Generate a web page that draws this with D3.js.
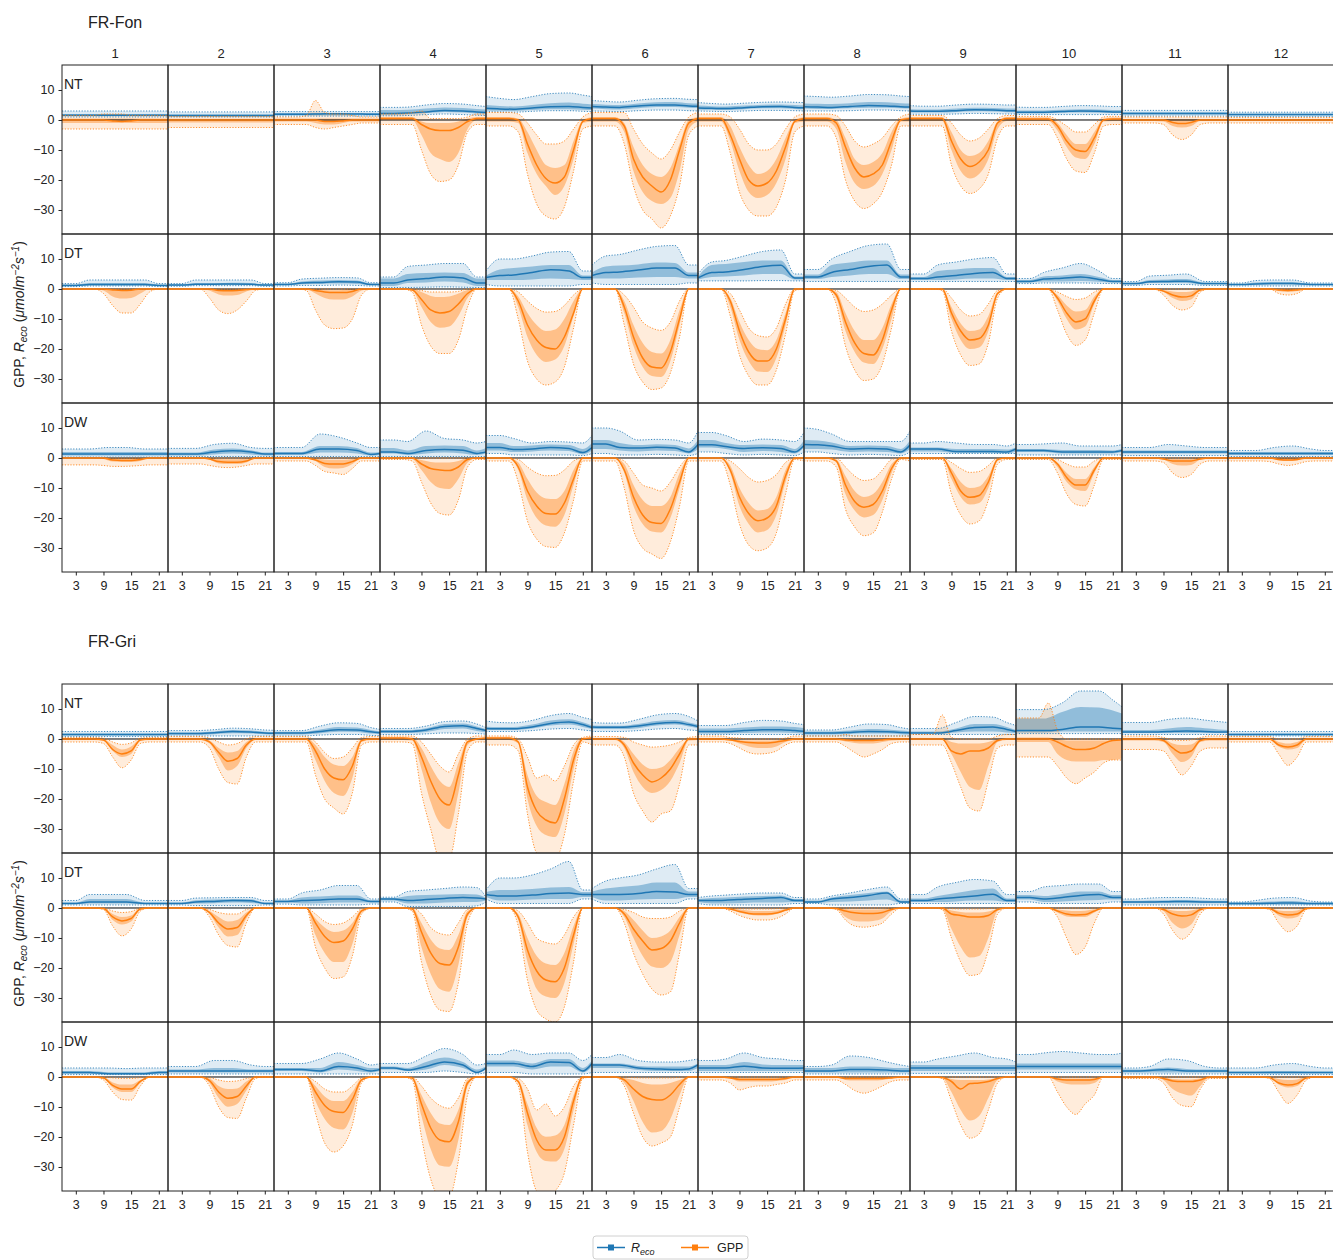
<!DOCTYPE html>
<html>
<head>
<meta charset="utf-8">
<script src="https://cdn.jsdelivr.net/npm/d3@7"></script>
<style>
  body { margin: 0; background: #fff; }
  svg { display: block; }
  text { font-family: "Liberation Sans", Arial, Helvetica, sans-serif; fill: #222; }
</style>
</head>
<body>
<svg id="chart" width="1333" height="1260"></svg>
<script>
// ---- data -------------------------------------------------------------
// Mean diurnal cycles per month. Each month holds five quantile series
// [p05, p25, p50, p75, p95]; a single number stands for a flat series.
const HOURS_GPP  = [0, 5, 7, 9, 11, 13, 15, 17, 19, 21, 23];
const HOURS_RECO = [0, 3, 6, 10, 14, 18, 21, 23];
const MONTHS = [1, 2, 3, 4, 5, 6, 7, 8, 9, 10, 11, 12];
const METHODS = ["NT", "DT", "DW"];
const SITES = ["FR-Fon", "FR-Gri"];
const X_TICKS = [3, 9, 15, 21];
const Y_TICKS = [10, 0, -10, -20, -30];

const fonNT_gpp = [
  [-3, -1, [0,0,0,0,-0.3,-0.5,-0.3,0,0,0,0], 0.5, [1.5,1.5,1.5,2,2,2,1.5,1.5,1.5,1.5,1.5]],
  [-2.5, -0.8, 0, 0.4, 1.2],
  [[-1.5,-1.5,-1.5,-2.5,-3,-2.5,-2,-1.5,-1,-1,-1],[-0.5,-0.5,-0.5,-1,-1.5,-1.5,-1,-0.5,-0.5,-0.5,-0.5],[0,0,0,0,-0.5,-0.5,-0.3,0,0,0,0],0.5,[1,1,1.5,6.5,2.5,2,2,1.5,1,1,1]],
  [[-1.5,-1.5,-1.5,-10,-18,-20.5,-20,-15,-4,-1.5,-1.5],[0,0,0,-5,-11,-13,-14,-11,-3,0,0],[0.5,0.5,0.5,-1.5,-3,-3.5,-3.5,-2.5,-0.5,0.5,0.5],[1,1,1,-0.5,-1,-1,-1,-0.5,0.5,1,1],[2,2,2.5,3,0.5,0.5,0.5,0.5,1,2,2]],
  [[-2,-2,-4,-18,-28,-32,-33,-29,-17,-3,-2],[-0.5,-0.5,-1,-11,-18,-22,-25,-22,-13,-1,-0.5],[0.5,0.5,0,-8,-15,-19.5,-21,-19,-10,-0.5,0.5],[1,1,0.5,-4,-10,-15,-16,-15,-7,0,1],[2.5,2.5,2,-1,-5,-8,-8,-7,-3,1,2.5]],
  [[-2,-2,-8,-22,-30,-33,-36,-32,-22,-5,-2],[-0.5,-0.5,-4,-17,-24,-27,-28,-26,-17,-3,-0.5],[0.5,0.5,-2,-13,-19,-22,-24,-20,-10,-1,0.5],[1,1,-1,-9,-15,-18,-19,-16,-8,0,1],[2.5,2.5,2.5,-3,-8,-11,-13,-10,-4,1,2.5]],
  [[-2,-2,-11,-24,-30,-32,-32,-29,-20,-4,-2],[-0.5,-0.5,-7,-17,-24,-26,-25,-21,-13,-1,-0.5],[0.5,0.5,-5,-13,-20,-22,-21,-17,-9,-0.5,0.5],[1,1,-2,-9,-15,-18,-17,-13,-6,0,1],[2,2,1,-3,-8,-10,-10,-8,-3,1,2]],
  [[-2,-2,-6,-20,-27,-29.5,-28,-24,-15,-2,-2],[-0.5,-0.5,-3,-14,-21,-23,-22,-18,-10,-0.5,-0.5],[0.5,0.5,-1,-9,-16,-19,-18,-15,-7,0,0.5],[1,1,0,-6,-13,-15,-14,-11,-4,0.5,1],[2,2,1.5,-2,-7,-9,-8,-6,-2,1,2]],
  [[-2,-2,-2,-15,-22,-24.5,-23,-18,-6,-2,-2],[-0.3,-0.3,-0.3,-10,-17,-19.5,-18,-13,-3,-0.3,-0.3],[0.5,0.5,0.5,-7,-13,-15.5,-14,-10,-1,0.5,0.5],[1,1,1,-4,-10,-12,-11,-7,-0.5,1,1],[1.5,1.5,1.5,-1,-5,-7,-6,-3,0.5,1.5,1.5]],
  [[-1.5,-1.5,-1.5,-6,-13,-17,-17.5,-11,-2,-1.5,-1.5],[-0.3,-0.3,-0.3,-3.5,-9,-12.5,-13,-8,-0.5,-0.3,-0.3],[0.3,0.3,0.3,-2,-7,-10,-10.5,-6,0,0.3,0.3],[0.8,0.8,0.8,-1,-5,-8,-8,-4,0.5,0.8,0.8],[1.2,1.2,1.2,0,-2,-4,-4,-1.5,1,1.2,1.2]],
  [[-1,-1,-1,-1.5,-5,-6.5,-5,-1.5,-1,-1,-1],[-0.3,-0.3,-0.3,-0.5,-2,-2.5,-2,-0.3,-0.3,-0.3,-0.3],[0,0,0,0,-0.8,-1.2,-0.8,0,0,0,0],0.3,1],
  [-1, -0.3, 0, 0.3, 0.8]
];
const fonNT_reco = [
  [1, 1.3, 1.6, 2, 3],
  [1, 1.2, 1.5, 1.8, 2.7],
  [1.3, 1.6, [1.9,1.9,1.9,2,2.1,2,1.9,1.9], 2.3, 2.8],
  [[1.4,1.4,1.5,1.8,2,1.8,1.6,1.5],[1.8,1.8,1.9,2.3,2.7,2.5,2.2,2],[2.2,2.2,2.3,2.7,3.2,3,2.7,2.5],[3.3,3.3,3.4,3.8,4.2,4,3.7,3.5],[4.2,4.2,4.3,5,5.5,5.3,4.8,4.5]],
  [[2.8,2.7,2.6,2.9,3.1,3.1,2.9,2.8],[3.2,3.1,3,3.3,3.6,3.6,3.4,3.3],[3.9,3.7,3.6,4,4.4,4.5,4.2,4],[5,4.7,4.5,5,5.6,5.8,5.4,5.2],[7.8,7.2,6.8,7.8,8.8,9,8.3,7.8]],
  [[3,2.9,2.8,3.1,3.3,3.3,3.1,3],[3.8,3.6,3.5,3.9,4.3,4.3,4.1,4],[4.5,4.3,4.2,4.7,5,5,4.7,4.6],[5.3,5.1,5,5.5,5.9,6,5.6,5.5],[6.5,6.2,6,6.6,7.1,7.2,6.9,6.8]],
  [[3,2.9,2.8,3,3.2,3.2,3.1,3],[3.5,3.4,3.3,3.6,3.9,3.9,3.7,3.6],[4,3.9,3.8,4.1,4.4,4.5,4.2,4.1],[4.8,4.6,4.5,4.8,5.1,5.2,5,4.9],[5.8,5.5,5.3,5.6,5.9,6,5.9,5.8]],
  [[3,3,3,3.1,3.3,3.3,3.1,3],[3.8,3.7,3.7,3.9,4.1,4.1,3.9,3.8],[4.4,4.3,4.2,4.5,4.8,4.7,4.4,4.3],[5.5,5.4,5.3,5.6,6,5.9,5.6,5.5],[8,7.8,7.6,8,8.5,8.4,8,7.8]],
  [[1.9,1.9,1.9,2,2.2,2.1,2,2],[2.5,2.5,2.5,2.7,2.9,2.8,2.6,2.6],[3,2.9,2.9,3.1,3.4,3.3,3.1,3.1],[3.6,3.5,3.5,3.8,4.1,4,3.8,3.8],[4.8,4.6,4.6,5,5.3,5.2,5,5]],
  [1.8,[2.2,2.2,2.2,2.4,2.5,2.4,2.3,2.3],[2.6,2.6,2.6,2.8,3,2.9,2.7,2.7],[3.2,3.2,3.2,3.4,3.6,3.5,3.3,3.3],[4.3,4.2,4.2,4.5,4.8,4.7,4.5,4.5]],
  [1.3, 1.8, 2.2, 2.6, 3.2],
  [1.1, 1.5, 1.8, 2.1, 2.6]
];

const fonDT_gpp = [
  [[0,0,0,-1.5,-5.5,-8,-8,-5,-1,0,0],[0,0,0,-0.5,-2.5,-3.2,-3,-1.5,0,0,0],[0,0,0,0,-0.3,-0.5,-0.4,0,0,0,0],0,0],
  [[0,0,0,-3,-7,-8.2,-7,-4,-0.5,0,0],[0,0,0,-0.5,-1.8,-2.2,-2,-0.8,0,0,0],[0,0,0,0,-0.5,-0.6,-0.5,-0.2,0,0,0],0,0],
  [[0,0,-0.5,-7,-12,-13.2,-13,-10,-2,0,0],[0,0,0,-1.5,-3,-3.5,-3.5,-2.5,-0.5,0,0],[0,0,0,-0.5,-1,-1.2,-1.2,-0.8,0,0,0],[0,0,0,0,-0.3,-0.4,-0.3,0,0,0,0],0],
  [[0,0,-1,-12,-19,-21.5,-21.5,-17,-6,0,0],[0,0,-0.5,-6,-11,-12.9,-12.5,-9,-3,0,0],[0,0,-0.3,-3.5,-7,-8,-7.5,-5,-1.5,0,0],[0,0,0,-1,-2.3,-2.7,-2.5,-1.5,-0.3,0,0],[0,0,0,-0.5,-1,-1,-1,-0.8,0,0,0]],
  [[0,0,-10,-24,-30,-32,-31,-26,-13,0,0],[0,0,-6,-16,-22,-24.3,-23.5,-19,-9,0,0],[0,0,-4,-12,-17,-19.5,-20,-16,-8,0,0],[0,0,-2.5,-8,-12,-14,-13.5,-10,-4,0,0],[0,0,-1,-4,-6.5,-7.7,-7.5,-5.5,-2,0,0]],
  [[0,0,-12,-25,-31,-33.5,-33,-28,-16,0,0],[0,0,-8,-19,-26,-29,-29.3,-24,-12,0,0],[0,0,-6,-16,-23,-26,-26.3,-21,-10,0,0],[0,0,-4,-12,-18,-21,-21.5,-17,-7,0,0],[0,0,-2,-6,-11,-13,-13.8,-11,-4,0,0]],
  [[0,0,-9,-22,-29,-32,-32,-27,-15,-0.5,0],[0,0,-6,-17,-24,-27.5,-27.7,-23,-12,0,0],[0,0,-4,-14,-21,-24,-24,-20,-10,0,0],[0,0,-3,-11,-17,-20,-20.4,-17,-8,0,0],[0,0,-1.5,-7,-13,-15.5,-16,-13,-5,0,0]],
  [[0,0,-5,-19,-27,-30.5,-30,-25,-13,0,0],[0,0,-3,-14,-21,-24.5,-25,-20,-10,0,0],[0,0,-2,-11,-18,-21.5,-22,-17,-7,0,0],[0,0,-1,-8,-14,-17,-17,-13,-5,0,0],[0,0,-0.5,-3,-6,-7.5,-7,-5,-2,0,0]],
  [[0,0,-0.5,-14,-22,-25.5,-25,-18,-3,0,0],[0,0,-0.3,-10,-17,-20,-19.5,-14,-2,0,0],[0,0,0,-8,-14,-17,-16.5,-12,-1.5,0,0],[0,0,0,-6,-11.5,-14,-13.5,-9,-1,0,0],[0,0,0,-3,-7,-9,-8.5,-5,-0.5,0,0]],
  [[0,0,0,-7,-15,-18.8,-17,-8,0,0,0],[0,0,0,-4,-10,-13.5,-12.5,-5,0,0,0],[0,0,0,-3,-8,-11,-10,-4,0,0,0],[0,0,0,-2,-5.5,-7.5,-7,-2.5,0,0,0],[0,0,0,-1,-2.5,-3.5,-3,-1,0,0,0]],
  [[0,0,0,-2,-5.5,-7,-6,-1,0,0,0],[0,0,0,-1,-3,-4,-3.5,-0.5,0,0,0],[0,0,0,-0.7,-2,-2.7,-2.3,-0.3,0,0,0],[0,0,0,-0.3,-0.8,-1,-0.8,0,0,0,0],0],
  [[0,0,0,0,-1.5,-2,-1.5,0,0,0,0],[0,0,0,0,-0.7,-1,-0.7,0,0,0,0],[0,0,0,0,-0.3,-0.5,-0.3,0,0,0,0],0,0]
];
const fonDT_reco = [
  [[0.8,0.8,1,1,1,1,0.8,0.8],[1,1,1.2,1.2,1.2,1.2,1,1],[1.2,1.2,1.5,1.5,1.5,1.5,1.2,1.2],[1.5,1.5,2,2,2,2,1.5,1.5],[1.8,1.8,3,3,3,3,1.8,1.8]],
  [[0.9,0.9,1.1,1.1,1.1,1.1,0.9,0.9],[1.1,1.1,1.3,1.3,1.3,1.3,1.1,1.1],[1.3,1.3,1.6,1.6,1.7,1.6,1.3,1.3],[1.5,1.5,2,2,2.1,2,1.5,1.5],[1.8,1.8,3,3,3,3,1.8,1.8]],
  [[1,1,1.2,1.2,1.3,1.2,1,1],[1.3,1.3,1.6,1.7,1.8,1.7,1.3,1.3],[1.5,1.5,2,2.2,2.4,2.3,1.5,1.5],[1.8,1.8,2.5,2.8,3,2.8,1.8,1.8],[2.1,2.1,3.3,3.6,3.8,3.7,2.1,2.1]],
  [[0.5,0.5,0.5,0.6,0.7,0.6,0.5,0.5],[1,1,2,2.2,2.5,2.2,1,1],[2,2,3,3.5,4,3.7,2,2],[3.5,3.5,5,5.3,5.5,5.3,3.5,3.5],[4,4,7.5,8,8.5,8.5,4,4]],
  [[1.5,1,1,1,1,1,1.5,1.5],[3,3,3,3.2,3.5,3.3,3,3],[3.8,4.5,4.7,5.5,6.4,6,3.8,3.8],[4.5,6.5,7,7.5,8,8,4.5,4.5],[6,10,10,11,12.3,12.5,6,6]],
  [[2,1.5,1.5,1.5,1.5,1.5,2,2],[3.5,3.5,3.5,3.8,4,4,3.5,3.5],[4.5,5.5,5.7,6.3,7,7,4.5,4.5],[5.5,7.5,7.8,8.2,8.8,8.7,5.5,5.5],[8,11,11.5,13,14.2,14.5,8,8]],
  [[2.7,2.7,2.7,2.7,2.8,2.8,2.7,2.7],[3.2,4,4.2,4.5,5,5,3.2,3.2],[3.7,5.5,5.7,6.5,7.5,7.9,3.7,3.7],[4.2,8,8.3,9,9.5,9.5,4.2,4.2],[5,9,9.5,11,12.5,13,5,5]],
  [2.5,[3.3,3.3,4,4.5,5,5,3.3,3.3],[4,4,5.5,6.5,7.5,8,4,4],[4.8,4.8,8,8.8,9.5,9.5,4.8,4.8],[6.5,6.5,10,12.5,14.5,15,6.5,6.5]],
  [2.5,[3,3,3,3.2,3.5,3.5,3,3],[3.5,3.5,4,4.5,5.2,5.5,3.5,3.5],[4,4,6,6.5,7,7,4,4],[5,5,8,9,10,10.5,5,5]],
  [[1.8,1.8,2,2,2,1.9,1.8,1.8],[2.2,2.2,2.5,2.5,2.7,2.4,2.2,2.2],[2.5,2.5,3.3,3.6,4,3.2,2.5,2.5],[3,3,4.2,4.5,5,4,3,3],[3.5,3.5,5.5,7,8.5,6,3.5,3.5]],
  [[1.2,1.2,1.5,1.5,1.5,1.2,1.2,1.2],[1.5,1.5,2,2,2,1.5,1.5,1.5],[1.8,1.8,2.4,2.5,2.6,1.8,1.8,1.8],[2.1,2.1,3,3.2,3.3,2.1,2.1,2.1],[2.5,2.5,4.3,4.6,5,2.5,2.5,2.5]],
  [1,[1.3,1.3,1.4,1.5,1.5,1.3,1.3,1.3],[1.5,1.5,1.7,1.8,1.8,1.5,1.5,1.5],[1.7,1.7,2.2,2.3,2.3,1.7,1.7,1.7],[2,2,2.8,3,3,2,2,2]]
];

const fonDW_gpp = [
  [[-2.3,-2.3,-2.3,-2.5,-2.8,-2.8,-2.7,-2.5,-2.3,-2.3,-2.3],[0,0,0,-0.3,-1.2,-1.3,-1.3,-1,0,0,0],[0,0,0,0,-0.7,-0.8,-0.8,-0.5,0,0,0],0,0],
  [[-2,-2,-2,-2.5,-3,-3.2,-3,-2.5,-2,-2,-2],[0,0,0,-0.5,-1.8,-2,-2,-1.5,0,0,0],[0,0,0,-0.3,-1.2,-1.4,-1.4,-1,0,0,0],[0,0,0,0,-0.3,-0.4,-0.4,-0.2,0,0,0],0],
  [[-1,-1,-1,-2.5,-4.5,-5,-5.5,-3.5,-1,-1,-1],[0,0,0,-1,-3,-3.5,-3.3,-2,0,0,0],[0,0,0,-0.7,-1.8,-2,-2,-1.2,0,0,0],[0,0,0,-0.2,-0.5,-0.6,-0.6,-0.3,0,0,0],0],
  [[-0.5,-0.5,-1,-8,-15,-18.5,-19,-14,-3,-0.5,-0.5],[0,0,-0.3,-4,-8,-10,-10.3,-7,-1.5,0,0],[0,0,0,-2,-3.5,-4,-4.2,-3,-0.5,0,0],[0,0,0,-0.7,-1.3,-1.5,-1.5,-1,0,0,0],0],
  [[-1,-1,-8,-21,-27,-29.5,-29.8,-25,-14,-1,-1],[0,0,-4,-14,-20,-22.5,-22.9,-19,-9,0,0],[0,0,-3,-11,-16,-18.5,-18.7,-15,-7,0,0],[0,0,-1.5,-7,-11.5,-13.5,-13.7,-11,-4,0,0],[0,0,-0.5,-3,-5,-5.9,-5.8,-4,-1,0,0]],
  [[-1,-1,-10,-24,-30,-32,-33.5,-28,-16,-1,-1],[0,0,-5,-16,-22,-24.5,-24.8,-20,-10,0,0],[0,0,-4,-13,-19,-21.5,-21.8,-17,-8,0,0],[0,0,-2,-9,-14,-16,-16,-13,-5,0,0],[0,0,-1,-5,-9,-10,-11,-8,-3,0,0]],
  [[-1,-1,-9,-22,-29,-30.9,-30,-25,-12,-0.5,-1],[0,0,-5,-16,-22,-24.8,-24,-19,-8,0,0],[0,0,-4,-13,-18.5,-20.9,-20,-16,-6,0,0],[0,0,-2.5,-10,-15,-17.5,-17,-13,-4,0,0],[0,0,-1,-3.5,-6.5,-8,-7.5,-5.5,-1.5,0,0]],
  [[-1,-1,-3,-17,-23,-25.9,-25,-18,-7,-0.5,-1],[0,0,-1.5,-12,-17.5,-19.8,-19,-14,-5,0,0],[0,0,-1,-9,-14.5,-16.4,-15.5,-11,-3.5,0,0],[0,0,-0.5,-6,-11,-13,-12,-8,-2,0,0],[0,0,0,-3,-6,-7.5,-7,-4,-0.5,0,0]],
  [[-0.5,-0.5,-0.5,-12,-19,-22,-21,-14,-2,-0.5,-0.5],[0,0,0,-7,-13,-15.5,-15,-10,-1,0,0],[0,0,0,-5,-11,-13.1,-12.5,-8,-0.5,0,0],[0,0,0,-3.5,-8,-10,-9.5,-6,-0.3,0,0],[0,0,0,-1.5,-3.5,-4.8,-4.5,-2.5,0,0,0]],
  [[-0.5,-0.5,-0.5,-5,-12,-15.5,-16,-9,-0.5,-0.5,-0.5],[0,0,0,-3,-8,-10.5,-11,-5,0,0,0],[0,0,0,-2,-6.5,-9,-9,-4,0,0,0],[0,0,0,-1.5,-5,-7,-7,-3,0,0,0],[0,0,0,-0.5,-2,-3,-3,-1,0,0,0]],
  [[-1,-1,-1,-1.5,-5,-6.5,-5.5,-2,-1,-1,-1],[0,0,0,-0.5,-2,-2.5,-2.3,-0.5,0,0,0],[0,0,0,-0.3,-1,-1,-1,-0.3,0,0,0],[0,0,0,0,-0.3,-0.3,-0.3,0,0,0,0],0],
  [[-1,-1,-1,-1.2,-2,-2.5,-2,-1.2,-1,-1,-1],[0,0,0,0,-0.8,-1,-0.8,0,0,0,0],[0,0,0,0,-0.5,-0.7,-0.5,0,0,0,0],0,0]
];
const fonDW_reco = [
  [0.3, 0.8, 1.3, 2, [3,3,3,3.5,3.5,3,3,3]],
  [0.5,[0.8,0.8,0.8,1.2,1.5,1.2,0.8,0.8],[1.3,1.3,1.3,2,2.4,2,1.3,1.3],[1.8,1.8,1.8,2.8,3.2,2.6,1.8,1.8],[3.2,3.2,3.2,4.5,4.9,3.5,3.2,3.2]],
  [0.5,[1,1,1,1.8,1.8,1.5,0.8,1],[1.5,1.5,1.5,3,3,2.5,1.2,1.5],[2,2,2,4,4,3.3,1.8,2],[3.5,3.5,3.5,8,7,5,3.5,3.5]],
  [0.5,[1.5,1.5,1,1.5,1.8,1.5,1,1.5],[2,2,1.5,2.5,2.8,2.6,1.5,2],[3.3,3.3,2.5,4,4.2,4,2.5,3.3],[6,6,5.5,9,6.5,6,5,5.5]],
  [[1.5,1.5,1,1,1,1,0.8,1.5],[2.5,2.5,2,2.2,2.5,2.3,1.2,2.5],[3.5,3.5,2.8,3,3.5,3.2,1.8,3.5],[5,5,4,4.2,4.5,4.3,3,5],[7.5,7.5,6.5,5,5.5,5.3,5,7.5]],
  [[1.5,1.5,1,1,1.2,1,0.8,1.5],[3,3,2.5,2.2,2.5,2.3,1.5,3],[4.7,4.7,3.5,3.3,3.6,3.3,2,4.5],[6,6,5,4.3,4.6,4.3,3.2,6],[10,10,9,6,6.2,6,5,9]],
  [[2,2,1.5,1,1.2,1,0.8,2],[3.5,3.5,3,2,2.3,2,1.5,3.5],[4.4,4.4,3.8,3.2,3.4,3.2,2,4.2],[6,6,5,4.3,4.5,4.3,3,5.8],[8.5,8.5,7.5,5.5,6.3,6,5.5,8.5]],
  [[2,2,1.5,1,1.2,1,0.8,2],[3,3,2.8,2,2.2,2,1.5,3],[4.5,4.4,4,3,3.2,3,2,4.3],[6,5.8,5.2,4,4.2,4,3,5.8],[10,9.5,8,5.5,5.5,5.5,5.5,9]],
  [1.5,[2.2,2.2,2.2,1.7,1.7,1.7,1.5,2.2],[3,3,3,2.2,2.2,2.2,2,3],[3.5,3.5,3.5,3,3,3,2.8,3.5],[5,5,5.5,5,4.5,4.5,4,5]],
  [1,[2,2,2,1.5,1.5,1.5,1.5,2],[2.5,2.5,2.5,2,2,2,2,2.5],[3,3,3,2.7,2.7,2.7,2.5,3],[4.5,4.5,4.7,5,4,4,4,4.5]],
  [0.8, 1.5, 2, 2.5, [3.5,3.5,3.5,4.5,4,3.5,3.5,3.5]],
  [0.5, 1, 1.5, 2, [2.5,2.5,2.5,3.5,4,3,2.5,2.5]]
];

const griNT_gpp = [
  [[-1,-1,-1,-1.5,-6,-9.6,-7,-1.5,-1,-1,-1],[-0.3,-0.3,-0.3,-0.5,-4,-6,-5,-0.5,-0.3,-0.3,-0.3],[0,0,0,-0.3,-3.5,-5,-4,-0.3,0,0,0],[0.3,0.3,0.3,0,-2,-3.5,-2.5,0,0.3,0.3,0.3],[0.5,0.5,0.5,0.3,-1,-1.8,-1.3,0.3,0.5,0.5,0.5]],
  [[-1,-1,-1,-3,-10,-14.5,-15,-6,-1,-1,-1],[-0.3,-0.3,-0.3,-1.5,-6,-10.5,-9,-3,-0.3,-0.3,-0.3],[0,0,0,-1,-4.5,-7.4,-6.5,-2,0,0,0],[0.3,0.3,0.3,-0.5,-3,-4.5,-4,-1,0.3,0.3,0.3],[0.8,0.8,0.8,0.3,-1,-2,-1.5,0,0.8,0.8,0.8]],
  [[-1,-1,-1,-12,-20,-23,-25,-18,-2,-1,-1],[-0.3,-0.3,-0.3,-7,-14,-18,-19,-13,-1,-0.3,-0.3],[0,0,0,-4,-10,-13,-13.6,-9,-0.5,0,0],[0.3,0.3,0.3,-2,-6,-8.5,-9,-6,0,0.3,0.3],[0.8,0.8,0.8,-1,-4.5,-6.5,-6,-3,0.5,0.8,0.8]],
  [[-1,-1,-1.5,-18,-30,-40,-40,-25,-4,-1,-1],[-0.3,-0.3,-0.5,-10,-21,-28,-30,-18,-2,-0.3,-0.3],[0.3,0.3,0,-6,-14,-20,-22,-12,-1,0,0.3],[0.5,0.5,0.5,-3,-9,-14,-16,-8,-0.5,0.3,0.5],[1,1,1,-1,-5,-9,-11,-5,0,1,1]],
  [[-2,-2,-4,-25,-38,-40,-40,-32,-14,-1,-2],[-0.3,-0.3,-1.5,-20,-29,-32,-32.7,-25,-10,-0.3,-0.3],[0.3,0.3,-1,-16,-24,-27,-28,-20,-7,0,0.3],[0.5,0.5,-0.5,-12,-19,-21,-22,-15,-4,0.3,0.5],[1,1,0,-6,-13,-12,-14,-9,-2,0.5,1]],
  [[-2,-2,-6,-18,-24,-27.7,-25,-24,-15,-2,-2],[-0.3,-0.3,-3,-11,-16,-18,-17,-14,-8,-0.5,-0.3],[0,0,-2,-8,-12,-14.3,-13,-10,-5,0,0],[0.3,0.3,-1,-5,-8.5,-10,-9.5,-7,-3,0,0.3],[0.8,0.8,0.5,-1,-2,-2.7,-2.5,-2,-1,0.5,0.8]],
  [[-1,-1,-1.5,-3,-4.5,-5,-4.8,-4,-2,-1,-1],[-0.3,-0.3,-0.5,-1.5,-2.5,-3,-3,-2.5,-1,-0.3,-0.3],[0,0,-0.3,-0.8,-1.2,-1.3,-1.3,-1,-0.5,0,0],[0.3,0.3,0,-0.3,-0.5,-0.5,-0.5,-0.4,0,0.3,0.3],[1,1,0.5,0.3,0,0,0,0,0.3,1,1]],
  [[-1,-1,-1,-2.5,-4.5,-6,-5,-3.5,-1.5,-1,-1],[-0.3,-0.3,-0.3,-0.8,-1.3,-1.5,-1.5,-1,-0.5,-0.3,-0.3],[0,0,0,-0.3,-0.5,-0.5,-0.5,-0.3,0,0,0],[0.3,0.3,0.3,0,0,0,0,0,0.3,0.3,0.3],[1,1,1,1.5,1,1,1,1,1,1,1]],
  [[-2,-2,-2,-8,-16,-23,-24,-14,-3,-2,-2],[-0.3,-0.3,-0.3,-5,-11,-16,-17,-9,-1,-0.3,-0.3],[0,0,0,-4,-5,-4,-4,-3,-0.5,0,0],[0.3,0.3,0.3,-1,-1.5,-1.5,-1.5,-1,0,0.3,0.3],[1.5,1.5,8,0.5,0,0,0,0,1,1.5,1.5]],
  [[-6,-6,-6,-9,-13,-14.9,-13,-11,-8,-7,-7],[-1,-1,-1,-5,-7,-7.5,-7.5,-7.5,-7,-7,-6.5],[0,0,0,-1,-2.5,-3.5,-3.5,-3,-1.5,-0.5,-0.3],[0.5,0.5,0.5,0,-0.5,-0.5,-0.5,-0.5,-0.5,-0.5,-0.5],[7,7,12,3,0,0,0,0,0,0,0]],
  [[-3.5,-3.5,-3.5,-4,-8,-12,-9,-4,-3,-3,-3],[-0.5,-0.5,-0.5,-1,-5,-7.7,-6,-1,-0.5,-0.5,-0.5],[0,0,0,-0.5,-3,-4.7,-4,-0.5,0,0,0],[0.3,0.3,0.3,0,-1.5,-2,-1.8,0,0.3,0.3,0.3],[1,1,1,0.5,-0.3,-0.5,-0.3,0.5,1,1,1]],
  [[-1,-1,-1,-1,-5,-8.8,-6,-1,-1,-1,-1],[-0.3,-0.3,-0.3,-0.3,-2.5,-3.5,-3,-0.3,-0.3,-0.3,-0.3],[0,0,0,0,-2,-2.7,-2,0,0,0,0],[0.3,0.3,0.3,0.3,-1,-1.5,-1,0.3,0.3,0.3,0.3],[0.8,0.8,0.8,0.8,0,0,0,0.8,0.8,0.8,0.8]]
];
const griNT_reco = [
  [0.8, 1.2, 1.5, 1.8, 2.5],
  [1,[1.4,1.4,1.4,1.6,1.9,1.8,1.6,1.5],[1.8,1.8,1.8,2.1,2.5,2.3,2,1.9],[2.2,2.2,2.2,2.5,3,2.8,2.4,2.3],[2.8,2.8,2.8,3.1,3.6,3.4,3,2.9]],
  [[1,1,1,1.3,1.5,1.5,1.2,1.1],[1.5,1.5,1.5,1.9,2.4,2.3,1.8,1.6],[2,2,2,2.5,3.1,3,2.4,2.1],[2.4,2.4,2.4,3.2,4,3.8,3,2.6],[2.8,2.8,2.8,4.3,5.4,5.2,3.8,3.2]],
  [[1.5,1.5,1.5,1.7,2,2,1.8,1.6],[2,2,2,2.3,3.3,3.5,2.7,2.2],[2.5,2.5,2.5,3,4.2,4.4,3.5,2.8],[3,3,3,3.6,5,5.2,4.2,3.3],[3.5,3.5,3.5,4.3,5.8,6,5,3.8]],
  [[2.5,2.5,2.5,2.8,3.3,3.5,3,2.7],[3.1,3,3,3.5,4.5,4.8,4,3.3],[3.5,3.4,3.4,4,5.2,5.7,4.8,3.8],[4.1,4,4,4.8,6.2,6.6,5.6,4.5],[6,5.5,5.4,6.2,7.8,8.5,7.2,6.5]],
  [[2.5,2.5,2.5,2.8,3.3,3.5,3,2.8],[3.4,3.3,3.3,3.6,4.5,4.8,4.2,3.6],[4,3.9,3.9,4.3,5.2,5.5,4.8,4.2],[4.5,4.4,4.4,5,6,6.3,5.5,4.8],[5.5,5.3,5.3,6.5,8,8.5,7.5,6]],
  [1.5,[1.8,1.8,1.8,2,2.2,2.2,2,1.8],[2.5,2.5,2.5,2.8,3.1,3.1,2.8,2.6],[3.5,3.5,3.5,3.8,4.2,4.2,4,3.7],[4.5,4.5,4.5,5.5,6.2,6,5.2,4.8]],
  [1,[1.5,1.5,1.5,1.7,1.8,1.8,1.6,1.5],[2,2,2,2.2,2.5,2.4,2.2,2],[2.5,2.5,2.5,2.8,3.3,3.2,2.8,2.6],[3,3,3,4,5,4.8,3.8,3.3]],
  [1.5,[1.8,1.8,1.8,2.2,2.5,2.5,2.2,2],[2,2,2,2.8,3.8,4,3.2,2.5],[2.5,2.5,2.5,3.5,5,5,4,3],[3.5,3.5,3.5,5.5,7.5,7.3,5.5,4.5]],
  [1.8,[2.2,2.2,2.2,2.5,2.5,2.5,2.5,2.5],[2.8,2.8,2.8,3.2,4,4,3.6,3.4],[6.8,6.8,6.8,9,10.7,10.5,9.5,8.5],[9.8,9.8,9.8,12,16,16,13,10.7]],
  [1.5,2,[2.3,2.3,2.3,2.5,2.7,2.5,2.3,2.3],[3,3,3,3.5,4,3.6,3.2,3],[5.5,5.5,5.5,6.5,7,6.3,5.8,5.5]],
  [1, 1.3, 1.5, 1.8, 2.5]
];

const griDT_gpp = [
  [[0,0,0,-0.5,-6,-9.3,-7,-1,0,0,0],[0,0,0,-0.3,-4,-5.5,-4.5,-0.5,0,0,0],[0,0,0,-0.2,-3,-4.3,-3.5,-0.3,0,0,0],[0,0,0,0,-2,-3,-2.5,0,0,0,0],[0,0,0,0,-1,-1.5,-1.2,0,0,0,0]],
  [[0,0,0,-3,-9,-12.5,-13,-5,0,0,0],[0,0,0,-2,-6.5,-9.5,-9,-3.5,0,0,0],[0,0,0,-1.5,-5,-7,-6.5,-2.5,0,0,0],[0,0,0,-1,-3,-4.5,-4,-1.5,0,0,0],[0,0,0,-0.5,-1.5,-2,-2,-0.5,0,0,0]],
  [[0,0,0,-13,-20,-23.5,-23,-16,-2,0,0],[0,0,0,-9,-15,-18,-18,-12,-1.5,0,0],[0,0,0,-5,-9.5,-11.5,-11,-7,-1,0,0],[0,0,0,-3.5,-6.5,-8,-7.5,-5,-0.5,0,0],[0,0,0,-2,-4.5,-5.5,-5,-3,-0.3,0,0]],
  [[0,0,-1,-18,-29,-34,-34.5,-25,-5,0,0],[0,0,-0.5,-13,-22,-27,-27.9,-19,-3,0,0],[0,0,-0.3,-8,-15,-18.5,-19,-13,-2,0,0],[0,0,0,-5,-10.5,-13.5,-14,-9,-1,0,0],[0,0,0,-2,-6.5,-8.5,-9,-5,-0.5,0,0]],
  [[0,0,-6,-24,-34,-37,-38,-33,-18,0,0],[0,0,-4,-18,-27,-29.5,-30,-25,-12,0,0],[0,0,-3,-14,-21,-24,-24.6,-20,-9,0,0],[0,0,-2,-10,-16,-18.5,-19,-15,-6,0,0],[0,0,-1,-5,-10,-11.5,-12,-9,-3,0,0]],
  [[0,0,-5,-15,-22,-27,-29,-28,-15,0,0],[0,0,-3,-10,-16,-19.5,-20,-18,-9,0,0],[0,0,-2,-7,-11,-14,-13.5,-11,-5,0,0],[0,0,-1,-4,-7.5,-10,-9.5,-7.5,-3,0,0],[0,0,-0.5,-1.5,-3,-3.5,-3.5,-3,-1,0,0]],
  [[0,0,-1,-2.5,-3.5,-4,-4,-3.5,-2,0,0],[0,0,-0.5,-1.5,-2.2,-2.5,-2.5,-2,-1,0,0],[0,0,-0.3,-1.2,-1.8,-2,-2,-1.7,-0.7,0,0],[0,0,0,-0.5,-0.8,-1,-1,-0.8,-0.3,0,0],[0,0,0,-0.2,-0.3,-0.3,-0.3,-0.2,0,0,0]],
  [[0,0,-0.5,-4,-6,-6.4,-6,-5,-2,0,0],[0,0,-0.3,-3,-4.3,-4.5,-4.3,-3.5,-1,0,0],[0,0,-0.2,-1,-1.6,-1.8,-1.8,-1.5,-0.5,0,0],[0,0,0,-0.3,-0.5,-0.5,-0.5,-0.4,0,0,0],0],
  [[0,0,-0.5,-10,-18,-22.5,-22,-14,-2,0,0],[0,0,-0.3,-7,-13,-16.5,-16,-10,-1,0,0],[0,0,0,-2,-2.5,-3,-3,-2.5,-0.5,0,0],[0,0,0,-0.8,-1.3,-1.5,-1.5,-1.2,-0.3,0,0],[0,0,0,-0.2,-0.3,-0.3,-0.3,-0.2,0,0,0]],
  [[0,0,0,-3,-10,-15.5,-13,-5,0,0,0],[0,0,0,-1.5,-2.8,-3,-3,-1.5,0,0,0],[0,0,0,-1,-2,-2.3,-2.2,-1,0,0,0],[0,0,0,-0.5,-0.8,-1,-0.9,-0.4,0,0,0],0],
  [[0,0,0,-2,-7.5,-10.4,-8,-2,0,0,0],[0,0,0,-1,-5,-6.8,-5.5,-1,0,0,0],[0,0,0,-0.5,-2,-2.7,-2.3,-0.5,0,0,0],[0,0,0,-0.2,-0.8,-1,-0.8,-0.2,0,0,0],0],
  [[0,0,0,-0.5,-5,-7.9,-6,-0.5,0,0,0],[0,0,0,-0.3,-2.5,-3.5,-3,-0.3,0,0,0],[0,0,0,-0.2,-1.7,-2.3,-2,-0.2,0,0,0],[0,0,0,0,-0.8,-1,-0.8,0,0,0,0],0]
];
const griDT_reco = [
  [1,[1.3,1.3,1.5,1.5,1.5,1.3,1.3,1.3],[1.5,1.5,2,2,2,1.5,1.5,1.5],[1.8,1.8,3,3,3,1.8,1.8,1.8],[2.5,2.5,4.5,4.5,4.5,2.5,2.5,2.5]],
  [[1,1,0.8,0.8,0.8,0.8,1,1],[1.3,1.3,1.5,1.6,1.8,1.7,1.3,1.3],[1.5,1.5,2,2.2,2.5,2.4,1.5,1.5],[1.8,1.8,2.6,2.8,3,2.9,1.8,1.8],[2.5,2.5,3.3,3.4,3.5,3.5,2.5,2.5]],
  [[1.3,1.3,1,1,1,1,1.3,1.3],[1.8,1.8,1.5,1.6,1.8,1.8,1.8,1.8],[2.2,2.2,2.5,2.7,3,3,2.2,2.2],[2.6,2.6,3.5,3.8,4.2,4.2,2.6,2.6],[3,3,5,6,7.5,7.5,3,3]],
  [[2,2,0.5,0.5,0.5,0.5,0.7,2],[2.5,2.5,1.5,1.5,1.8,2,2,2.5],[3,3,2.5,2.8,3.2,3.5,3.3,3],[3.3,3.3,4,4.3,4.5,4.7,4.5,3.3],[3.6,3.6,5.5,6,6.5,7,6.8,3.6]],
  [[3,1.5,1.5,1.5,1.5,1.5,3,3],[3.7,2.5,2.5,2.8,3,3,3.7,3.7],[4.5,4,4,4.3,4.8,5,4.5,4.5],[5.3,6,6,6.3,6.8,7,5.3,5.3],[6,10,10,11,13,15.5,6,6]],
  [[3,1.5,1.5,1.5,1.5,1.5,3,3],[3.7,2.5,2.5,2.8,3,3,3.7,3.7],[4.5,4.5,4.5,4.8,5.5,5.3,4.5,4.5],[5.5,6.5,7,7.5,8.5,8.5,5.5,5.5],[6.5,9,10,11,13,14.5,6.5,6.5]],
  [[1.5,1,1,1,1,1,1.5,1.5],[2,1.5,1.5,1.7,1.8,1.8,2,2],[2.5,2.5,2.6,2.9,3.2,3.5,2.5,2.5],[3,3.3,3.5,3.8,4,4.2,3,3],[3.5,4,4.3,4.7,5,5,3.5,3.5]],
  [[1.5,1.5,1,1,1,1,1.5,1.5],[1.7,1.7,2,2.2,2.5,2.8,1.7,1.7],[2,2,3,3.5,4.2,5,2,2],[2.5,2.5,3.5,4.3,5,5.5,2.5,2.5],[3,3,4,5,6.2,7,3,3]],
  [1.5,[2,2,2,2.2,2.5,2.5,2,2],[2.5,2.5,3,3.5,4,4.6,2.5,2.5],[3.2,3.2,4,5,6,6.5,3.2,3.2],[4.5,4.5,7,8.5,9.5,9,4.5,4.5]],
  [[2,2,1.5,1.5,1.5,1.5,2,2],[2.8,2.8,2,2.2,2.5,2.7,2.8,2.8],[3.5,3.5,3,3.5,4.2,4.5,3.5,3.5],[4.3,4.3,4,4.7,5.5,5.5,4.3,4.3],[5.5,5.5,7,7.5,8,8,5.5,5.5]],
  [1,1.6,[2,2,2,2.1,2.2,2,2,2],[2.4,2.4,2.5,2.6,2.7,2.5,2.4,2.4],[3,3,3.3,3.5,3.5,3.2,3,3]],
  [1,1.2,[1.5,1.5,1.5,1.6,1.7,1.5,1.5,1.5],[1.8,1.8,2,2.2,2.3,1.8,1.8,1.8],[2,2,2.5,3.3,3.5,2.3,2,2]]
];

const griDW_gpp = [
  [[0,0,0,-1,-5,-7.5,-7.7,-3,0,0,0],[0,0,0,-0.5,-3.5,-5,-5,-2,0,0,0],[0,0,0,-0.3,-2.8,-4,-4,-1.5,0,0,0],[0,0,0,0,-1.8,-2.5,-2.5,-1,0,0,0],[0,0,0,0,-0.3,-0.5,-0.5,-0.2,0,0,0]],
  [[0,0,0,-3,-10,-13.5,-13.8,-7,-0.5,0,0],[0,0,0,-2,-7,-9.9,-9,-4.5,0,0,0],[0,0,0,-1.2,-5,-7.1,-6.5,-3,0,0,0],[0,0,0,-0.5,-3,-4,-3.8,-1.5,0,0,0],[0,0,0,-0.2,-1,-1.5,-1.3,-0.5,0,0,0]],
  [[0,0,0,-12,-22,-25,-23,-16,-2,0,0],[0,0,0,-8,-14,-17,-17.5,-12,-1.5,0,0],[0,0,0,-5,-9.5,-11.5,-11.8,-7.5,-1,0,0],[0,0,0,-3,-6.5,-8,-8,-5,-0.5,0,0],[0,0,0,-1.5,-4,-5,-5,-3,-0.3,0,0]],
  [[0,0,-1,-20,-34,-40,-40,-28,-6,0,0],[0,0,-0.5,-13,-24,-29.5,-29.9,-21,-3,0,0],[0,0,-0.3,-9,-17,-21,-21.6,-15,-2,0,0],[0,0,0,-6,-12,-15.5,-16,-11,-1,0,0],[0,0,0,-3,-7,-9.5,-10.4,-7,-0.5,0,0]],
  [[0,0,-3,-25,-38,-40,-38,-32,-16,-0.5,0],[0,0,-2,-16,-25,-28,-28.2,-24,-11,0,0],[0,0,-1.5,-12,-21,-24.3,-24.3,-20,-8,0,0],[0,0,-1,-9,-17,-19.9,-19.5,-16,-6,0,0],[0,0,-0.5,-4,-11,-9,-13,-10,-3,0,0]],
  [[0,0,-3,-12,-20,-23,-22,-20,-10,0,0],[0,0,-2,-8,-15,-18.5,-18,-14,-6,0,0],[0,0,-1,-4,-6.5,-7.5,-7.7,-6,-2.5,0,0],[0,0,-0.3,-1,-2,-2.5,-2.5,-2,-1,0,0],[0,0,0,-0.2,-0.3,-0.3,-0.3,-0.3,-0.1,0,0]],
  [[-1,-1,-2,-4.3,-3.5,-3,-3,-2.5,-2,-1,-1],[0,0,-0.5,-1.5,-1.5,-1.5,-1.5,-1.3,-1,0,0],[0,0,-0.3,-0.8,-0.8,-0.8,-0.8,-0.8,-0.5,0,0],[0,0,0,-0.3,-0.3,-0.3,-0.3,-0.3,-0.2,0,0],0],
  [[-1,-1,-1,-2.5,-4.5,-5.4,-4.5,-3,-1.5,-1,-1],[0,0,0,-1,-1.2,-1.2,-1.2,-1,-0.5,0,0],[0,0,0,-0.5,-0.5,-0.5,-0.5,-0.5,-0.3,0,0],[0,0,0,-0.2,-0.2,-0.2,-0.2,-0.2,0,0,0],0],
  [[0,0,-0.5,-8,-16,-20.4,-19,-11,-2,0,0],[0,0,-0.3,-5,-11,-14.5,-13,-7,-1,0,0],[0,0,-0.2,-1.5,-4,-2.2,-2,-1.5,-0.5,0,0],[0,0,0,-0.7,-1,-1,-1,-0.8,-0.3,0,0],0],
  [[0,0,0,-5,-10,-12.5,-9,-6,0,0,0],[0,0,0,-1.5,-2.3,-2.5,-2.5,-2,0,0,0],[0,0,0,-0.7,-1,-1,-1,-0.8,0,0,0],[0,0,0,-0.3,-0.5,-0.5,-0.5,-0.3,0,0,0],0],
  [[-0.5,-0.5,-0.5,-2,-7,-9.5,-9.9,-4,-0.5,-0.5,-0.5],[0,0,0,-1,-4,-5.5,-6.2,-3,0,0,0],[0,0,0,-0.5,-1.3,-1.5,-1.5,-1,0,0,0],[0,0,0,-0.2,-0.7,-0.8,-0.8,-0.5,0,0,0],0],
  [[0,0,0,-0.5,-5,-8.8,-6,-1,0,0,0],[0,0,0,-0.3,-2.5,-3.5,-3,-0.5,0,0,0],[0,0,0,-0.2,-2,-2.7,-2.2,-0.3,0,0,0],[0,0,0,0,-0.7,-1,-0.8,0,0,0,0],0]
];
const griDW_reco = [
  [0.8,[1.1,1.1,1.1,0.8,0.8,0.8,1.1,1.1],[1.5,1.5,1.5,1.1,1.1,1.1,1.5,1.5],[2,2,2,1.6,1.6,1.6,2,2],[3,3,3,3,2.8,3,3,3]],
  [1, 1.5, 2, [2.5,2.5,2.5,3,3,2.5,2.5,2.5], [3.5,3.5,3.5,5.5,5.5,4,3.5,3.5]],
  [1,[2,2,2,1.5,2.5,2,1.5,2],[2.5,2.5,2.5,2,3.5,3,2,2.5],[3,3,3,3,5,4,3,3],[4.5,4.5,4.5,6,8,6,4,4.5]],
  [[1.5,1.5,1.5,1.5,2,1.5,1,1.5],[2.5,2.5,2,2.5,4,3,1.5,2.5],[3,3,2.3,3.5,5,4,1.5,3],[3.5,3.5,3,5,6.5,5,2.5,3.5],[4.5,4.5,4.5,7,9.5,7.5,4,4.5]],
  [[1.5,1.5,1.5,1,1,1,1,1.5],[3.5,3.5,3.5,2.5,3.5,3.5,1.5,3.5],[4.5,4.5,4.5,3.5,5,4.8,2,4.5],[5.5,5.5,5.5,4.5,6,6,3,5.5],[7.5,7.5,9,7.5,8,8,5.5,7.5]],
  [1.5,[3,3,3,2.3,2,2,2,3],[4,4,4,3,2.7,2.5,2.7,4],[4.5,4.5,4.5,3.7,3.5,3.5,3.5,4.5],[6.5,6.5,7.5,5.5,5,5,5.5,6]],
  [1.5, 2, [3,3,3,3.6,3,2.9,2.9,3], [4,4,4,5,4.2,4,4,4], [5.5,5.5,6,8,6.5,6,5.5,5.5]],
  [1, 1.5, [2,2,2,2.5,2.5,2.3,2,2], [3,3,3,3.5,3.5,3.2,3,3], [3.5,3.5,4,7,6.5,5,4,3.5]],
  [1.2, 2, 3, 4, [5,5,6,7,8,6.5,6,5]],
  [1.5, 2.5, 3.5, 4.5, [7.5,7.5,8,8.5,8,7.5,7.5,8]],
  [1, 1.5, [2,2,2.2,2.5,2,2,2,2], [2.5,2.5,2.7,3.2,2.7,2.5,2.5,2.5], [3,3,3.5,6,5.5,3.5,3,3]],
  [0.8, 1.2, 1.5, [1.8,1.8,1.8,2,2,1.8,1.8,1.8], [3,3,3,4,4.5,3.5,3,3]]
];

// ---- layout -----------------------------------------------------------
const BLUE = "#1f77b4", ORANGE = "#ff7f0e";
const PANEL_W = 106, ROW_H = 169, LEFT = 62;
const Y_DOMAIN = [-38, 18.33];
const FONT = '"Liberation Sans", Arial, sans-serif';

const blocks = [
  { site: SITES[0], top: 65, titleY: 28, monthLabels: true,
    rows: [[fonNT_reco, fonNT_gpp], [fonDT_reco, fonDT_gpp], [fonDW_reco, fonDW_gpp]] },
  { site: SITES[1], top: 684, titleY: 647, monthLabels: false,
    rows: [[griNT_reco, griNT_gpp], [griDT_reco, griDT_gpp], [griDW_reco, griDW_gpp]] }
];

const svg = d3.select("#chart");
const defs = svg.append("defs");
const x = d3.scaleLinear().domain([0, 23]).range([0, PANEL_W]);
const full = (v, n) => Array.isArray(v) ? v : new Array(n).fill(v);

function bandPath(hours, lo, hi, y) {
  return d3.area()
    .x((d, i) => x(hours[i])).y0((d, i) => y(lo[i])).y1((d, i) => y(hi[i]))
    .curve(d3.curveMonotoneX)(hours);
}
function linePath(hours, vals, y) {
  return d3.line()
    .x((d, i) => x(hours[i])).y((d, i) => y(vals[i]))
    .curve(d3.curveMonotoneX)(hours);
}

let clipId = 0;
function drawPanel(g, y, recoQ, gppQ) {
  const id = "clip" + (clipId++);
  defs.append("clipPath").attr("id", id)
    .append("rect").attr("x", 0).attr("y", y.range()[1]).attr("width", PANEL_W).attr("height", ROW_H);
  const body = g.append("g").attr("clip-path", `url(#${id})`);

  const series = [
    { hours: HOURS_RECO, q: recoQ.map(v => full(v, HOURS_RECO.length)), color: BLUE },
    { hours: HOURS_GPP,  q: gppQ.map(v => full(v, HOURS_GPP.length)),  color: ORANGE }
  ];
  series.forEach(s => {
    body.append("path").attr("d", bandPath(s.hours, s.q[0], s.q[4], y))
      .attr("fill", s.color).attr("fill-opacity", 0.15);
    body.append("path").attr("d", bandPath(s.hours, s.q[1], s.q[3], y))
      .attr("fill", s.color).attr("fill-opacity", 0.4);
  });
  body.append("line").attr("x1", 0).attr("x2", PANEL_W)
    .attr("y1", y(0)).attr("y2", y(0)).attr("stroke", "#000").attr("stroke-width", 1);
  series.forEach(s => {
    [0, 4].forEach(k => body.append("path").attr("d", linePath(s.hours, s.q[k], y))
      .attr("fill", "none").attr("stroke", s.color).attr("stroke-width", 1)
      .attr("stroke-opacity", 0.85).attr("stroke-dasharray", "1.2,1.6"));
    body.append("path").attr("d", linePath(s.hours, s.q[2], y))
      .attr("fill", "none").attr("stroke", s.color).attr("stroke-width", 1.5);
  });
  g.append("rect").attr("x", 0).attr("y", y.range()[1]).attr("width", PANEL_W).attr("height", ROW_H)
    .attr("fill", "none").attr("stroke", "#222").attr("stroke-width", 1);
}

function yLabel(cx, cy) {
  const t = svg.append("text")
    .attr("transform", `translate(${cx},${cy}) rotate(-90)`)
    .attr("text-anchor", "middle").attr("font-size", 14);
  t.append("tspan").text("GPP, ");
  t.append("tspan").attr("font-style", "italic").text("R");
  t.append("tspan").attr("font-style", "italic").attr("font-size", 10).attr("dy", 3).text("eco");
  t.append("tspan").attr("dy", -3).text(" (");
  t.append("tspan").attr("font-style", "italic").text("\u03bcmolm");
  t.append("tspan").attr("font-style", "italic").attr("font-size", 10).attr("dy", -5.5).text("\u22122");
  t.append("tspan").attr("font-style", "italic").attr("dy", 5.5).text("s");
  t.append("tspan").attr("font-style", "italic").attr("font-size", 10).attr("dy", -5.5).text("\u22121");
  t.append("tspan").attr("dy", 5.5).text(")");
}

blocks.forEach(block => {
  svg.append("text").attr("x", 88).attr("y", block.titleY)
    .attr("font-size", 16).text(block.site);

  block.rows.forEach((row, r) => {
    const top = block.top + r * ROW_H;
    const y = d3.scaleLinear().domain(Y_DOMAIN).range([top + ROW_H, top]);
    const [recoRows, gppRows] = row;

    MONTHS.forEach((m, c) => {
      const g = svg.append("g").attr("transform", `translate(${LEFT + c * PANEL_W},0)`);
      drawPanel(g, y, recoRows[c], gppRows[c]);

      if (r === 0 && block.monthLabels) {
        svg.append("text").attr("x", LEFT + c * PANEL_W + PANEL_W / 2).attr("y", 58)
          .attr("text-anchor", "middle").attr("font-size", 13).text(m);
      }
      if (r === 2) {
        const ax = g.append("g").attr("transform", `translate(0,${top + ROW_H})`)
          .call(d3.axisBottom(x).tickValues(X_TICKS).tickSize(3.5).tickPadding(6));
        ax.select(".domain").remove();
        ax.selectAll("line").attr("stroke", "#222");
        ax.selectAll("text").attr("font-size", 12.5).attr("fill", "#222").style("font-family", FONT);
      }
    });

    const ay = svg.append("g").attr("transform", `translate(${LEFT},0)`)
      .call(d3.axisLeft(y).tickValues(Y_TICKS).tickSize(3.5).tickPadding(4));
    ay.select(".domain").remove();
    ay.selectAll("line").attr("stroke", "#222");
    ay.selectAll("text").attr("font-size", 12.5).attr("fill", "#222").style("font-family", FONT);

    svg.append("text").attr("x", LEFT + 2).attr("y", top + 24)
      .attr("font-size", 14).text(METHODS[r]);
  });

  yLabel(24, block.top + 1.5 * ROW_H - 4);
});

// legend
const lg = svg.append("g").attr("transform", "translate(593,1236)");
lg.append("rect").attr("width", 155).attr("height", 23).attr("rx", 3)
  .attr("fill", "#fff").attr("stroke", "#d0d0d0");
[[BLUE, 4], [ORANGE, 88]].forEach(([col, x0]) => {
  lg.append("line").attr("x1", x0).attr("x2", x0 + 28).attr("y1", 11.5).attr("y2", 11.5)
    .attr("stroke", col).attr("stroke-width", 1.5);
  lg.append("rect").attr("x", x0 + 11).attr("y", 8.5).attr("width", 6).attr("height", 6).attr("fill", col);
});
const lt = lg.append("text").attr("x", 38).attr("y", 16).attr("font-size", 12.5);
lt.append("tspan").attr("font-style", "italic").text("R");
lt.append("tspan").attr("font-style", "italic").attr("font-size", 9).attr("dy", 3).text("eco");
lg.append("text").attr("x", 124).attr("y", 16).attr("font-size", 12.5).text("GPP");
</script>
</body>
</html>
